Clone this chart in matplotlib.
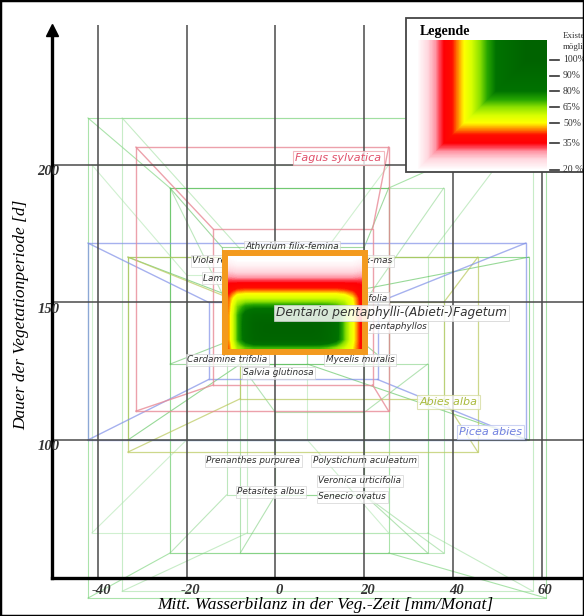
import numpy as np
import matplotlib
matplotlib.use("Agg")
import matplotlib.pyplot as plt
from matplotlib.colors import LinearSegmentedColormap, Normalize
from matplotlib.patches import Rectangle

# --- data -----------------------------------------------------------------
x_ticks = [-40, -20, 0, 20, 40, 60]
y_ticks = [100, 150, 200]

# Existenzmoeglichkeit (%) im Optimum-Fenster, Zeilen oben -> unten
heat_vals = np.array([
    [20, 19, 19, 19, 19, 19, 19, 19, 19, 19, 19, 19, 19, 19, 19, 19, 20],
    [23, 22, 22, 22, 22, 22, 22, 22, 22, 22, 22, 22, 22, 22, 22, 22, 23],
    [28, 27, 27, 27, 27, 27, 27, 27, 27, 27, 27, 27, 27, 27, 27, 27, 28],
    [34, 34, 34, 34, 34, 34, 34, 34, 34, 34, 34, 34, 34, 34, 34, 34, 34],
    [39, 43, 44, 44, 44, 44, 44, 44, 44, 44, 44, 44, 44, 44, 43, 41, 37],
    [44, 56, 58, 58, 58, 58, 58, 58, 58, 58, 58, 58, 58, 58, 56, 50, 39],
    [45, 66, 74, 76, 76, 76, 76, 76, 76, 76, 76, 76, 75, 72, 66, 52, 40],
    [46, 70, 84, 91, 92, 92, 92, 92, 92, 92, 92, 92, 90, 84, 68, 52, 40],
    [46, 70, 86, 96, 99, 99, 99, 99, 99, 99, 99, 98, 93, 85, 68, 52, 40],
    [46, 70, 86, 96, 99, 100, 100, 100, 100, 100, 100, 98, 93, 85, 68, 52, 40],
    [46, 70, 85, 95, 97, 97, 97, 97, 97, 97, 97, 96, 92, 84, 68, 52, 40],
    [44, 62, 68, 70, 70, 70, 70, 70, 70, 70, 70, 70, 68, 64, 58, 50, 40],
])
heat_box = (-11.3, 20.1, 132.0, 168.0)   # x0, x1, y0, y1

# Baumarten: aeusserer und innerer Rahmen (x0, x1, y0, y1)
fagus_outer, fagus_inner = (-31.4, 25.5, 110.5, 206.5), (-14.0, 21.9, 120.0, 176.7)
picea_outer, picea_inner = (-42.2, 56.4, 100.0, 171.6), (-15.0, 23.0, 122.0, 150.0)
abies_outer, abies_inner = (-33.2, 45.6, 95.6, 166.5), (-7.9, 37.9, 115.0, 150.0)

# Krautschicht-Arten: Rahmen
green_outer = [(-42.2, 61.0, 42.5, 217.1), (-34.5, 58.0, 45.0, 217.1),
               (-33.2, 57.1, 100.0, 166.5), (-23.7, 37.9, 58.9, 191.6),
               (-41.3, 25.5, 66.2, 200.0), (-7.9, 34.3, 58.9, 127.6),
               (-23.7, 25.5, 127.6, 191.6)]
green_inner = [(-23.7, 25.5, 58.9, 191.6), (-6.3, 34.3, 66.2, 166.5),
               (-7.9, 7.2, 127.6, 150.9), (-11.0, 20.0, 80.0, 150.0),
               (-20.0, 7.2, 100.0, 160.0), (0.0, 20.0, 80.0, 110.0),
               (-12.0, 20.0, 135.0, 170.0)]
green_cols = ['#66cc66', '#99dd99', '#44bb44', '#88d488', '#aae4aa', '#77cc77', '#55bb55']

species = ['Athyrium filix-femina', 'Viola reichenbachiana', 'Lamium galeobdolon',
           'Dryopteris filix-mas', 'Adenostyles alliariifolia', 'Dentaria pentaphyllos',
           'Cardamine trifolia', 'Mycelis muralis', 'Salvia glutinosa',
           'Prenanthes purpurea', 'Polystichum aculeatum', 'Veronica urticifolia',
           'Petasites albus', 'Senecio ovatus']
sp_x = [-6.8, -18.8, -16.3, 26.4, 25.3, 34.1, -19.9, 11.3, -7.2,
        -15.6, 8.4, 9.7, -8.6, 9.7]
sp_y = [170.2, 165.1, 158.9, 165.1, 151.6, 141.1, 129.1, 129.1, 124.4,
        92.4, 92.4, 85.1, 81.1, 79.3]
sp_ha = ['left', 'left', 'left', 'right', 'right', 'right', 'left', 'left', 'left',
         'left', 'left', 'left', 'left', 'left']

# Legende
leg_vals = [100, 90, 80, 65, 50, 35, 20]
leg_labels = ['100%', '90%', '80%', '65%', '50%', '35%', '20 %']
leg_tick_y = [60, 76, 91, 107, 123, 143, 170]

# colour ramp for the Existenzmoeglichkeit
stops = [(20, (1, 1, 1)), (26, (1, 0.84, 0.87)), (30, (1, 0.6, 0.66)),
         (33, (1, 0.2, 0.26)), (35, (1, 0, 0.02)), (41, (1, 0.05, 0)),
         (46, (1, 0.6, 0)), (50, (1, 1, 0)), (57, (0.85, 1, 0)),
         (65, (0.55, 0.88, 0)), (72, (0.15, 0.65, 0)), (80, (0, 0.45, 0)),
         (100, (0, 0.39, 0))]
cmap = LinearSegmentedColormap.from_list('exist', [((v - 20) / 80, c) for v, c in stops])
norm = Normalize(20, 100)

serif = 'Liberation Serif'


def draw_frame(ax, outer, inner, color, alpha, lw, z):
    for x0, x1, y0, y1 in (outer, inner):
        ax.plot([x0, x1, x1, x0, x0], [y0, y0, y1, y1, y0], color=color,
                alpha=alpha, lw=lw, zorder=z, clip_on=False)
    ox = [outer[0], outer[1], outer[1], outer[0]]
    oy = [outer[2], outer[2], outer[3], outer[3]]
    ix = [inner[0], inner[1], inner[1], inner[0]]
    iy = [inner[2], inner[2], inner[3], inner[3]]
    for k in range(4):
        ax.plot([ox[k], ix[k]], [oy[k], iy[k]], color=color, alpha=alpha,
                lw=lw, zorder=z, clip_on=False)


fig = plt.figure(figsize=(5.84, 6.16), dpi=100)

ax = fig.add_axes([52 / 584, 38 / 616, 532 / 584, 578 / 616])
ax.patch.set_alpha(0)
ax.set_xlim(-50.3, 69.5)
ax.set_ylim(49.8, 260)
for s in ('top', 'right'):
    ax.spines[s].set_visible(False)
ax.spines['left'].set_linewidth(2.4)
ax.spines['bottom'].set_linewidth(2.4)
ax.spines['left'].set_bounds(49.8, 247)
ax.spines['left'].set_zorder(8)
ax.spines['bottom'].set_zorder(8)
ax.plot([-50.3], [249], marker='^', ms=8, color='black', clip_on=False, zorder=9)
ax.set_xticks([])
ax.set_yticks([])

# Rahmen der Arten
for (o, i, c) in zip(green_outer, green_inner, green_cols):
    draw_frame(ax, o, i, c, 0.55, 0.8, 1)
draw_frame(ax, abies_outer, abies_inner, '#b9c85a', 0.7, 0.9, 2)
draw_frame(ax, picea_outer, picea_inner, '#8090e8', 0.7, 1.0, 2)
draw_frame(ax, fagus_outer, fagus_inner, '#e88a96', 0.8, 1.0, 2)

# Gitter
ax.vlines(x_ticks, 49.8, 251, color='#4a4a4a', lw=1.1, zorder=3)
ax.hlines(y_ticks, -50.3, 69.5, color='#4a4a4a', lw=1.1, zorder=3)

tick_font = dict(family=serif, style='italic', weight='bold', size=10.5, color='#333')
for xv in x_ticks:
    ax.text(xv + 0.8, 45.2, f'{xv}', ha='center', va='center', **tick_font)
for yv in y_ticks:
    ax.text(-48.6, yv - 2.5, f'{yv}', ha='right', va='center', zorder=9, **tick_font)

ax.set_xlabel('Mitt. Wasserbilanz in der Veg.-Zeit [mm/Monat]', family=serif,
              style='italic', size=12.5)
ax.xaxis.set_label_coords(0.513, -0.033)
ax.set_ylabel('Dauer der Vegetationperiode [d]', family=serif, style='italic', size=12.5)
ax.yaxis.set_label_coords(-0.042, 0.455)

# Artnamen
box = dict(boxstyle='square,pad=0.15', fc='white', ec='#cfcfcf', lw=0.6, alpha=0.75)
for name, xv, yv, ha in zip(species, sp_x, sp_y, sp_ha):
    ax.text(xv, yv, name, ha=ha, va='center', size=6.4, style='italic',
            color='#2e2e2e', bbox=box, zorder=4)

ax.text(4.5, 202.5, 'Fagus sylvatica', size=8, style='italic', color='#e0506a',
        va='center', zorder=4,
        bbox=dict(boxstyle='square,pad=0.2', fc='white', ec='#f0a8b0', lw=0.8, alpha=0.8))
ax.text(32.5, 113.8, 'Abies alba', size=8, style='italic', color='#a9ba3c',
        va='center', zorder=4,
        bbox=dict(boxstyle='square,pad=0.2', fc='white', ec='#d6dca0', lw=0.8, alpha=0.8))
ax.text(41.3, 102.9, 'Picea abies', size=8, style='italic', color='#7080e0',
        va='center', zorder=4,
        bbox=dict(boxstyle='square,pad=0.2', fc='white', ec='#c0c8f0', lw=0.8, alpha=0.8))

# Optimum-Fenster
hx0, hx1, hy0, hy1 = heat_box
ax.imshow(heat_vals, cmap=cmap, norm=norm, extent=(hx0, hx1, hy0, hy1),
          interpolation='bilinear', interpolation_stage='data', aspect='auto', zorder=5)
ax.add_patch(Rectangle((hx0, hy0), hx1 - hx0, hy1 - hy0, fill=False,
                       ec='#f39a1e', lw=4.3, zorder=6))
ax.text(0.2, 146.2, 'Dentario pentaphylli-(Abieti-)Fagetum', size=8.7, style='italic',
        color='#333', va='center', zorder=7,
        bbox=dict(boxstyle='square,pad=0.15', fc='white', ec='#d0d0d0', lw=0.6, alpha=0.85))
ax.set_xlim(-50.3, 69.5)
ax.set_ylim(49.8, 260)

# Legende (in Pixel-Koordinaten)
lg = fig.add_axes([406 / 584, (616 - 172) / 616, 178 / 584, 154 / 616])
lg.set_xlim(406, 584)
lg.set_ylim(172, 18)
lg.axis('off')
lg.add_patch(Rectangle((406, 18), 200, 154, fc='white', ec='#444', lw=1.3, clip_on=False))
xs = np.arange(417, 547) + 0.5
ys = np.arange(40, 170) + 0.5
vy = np.interp(ys, leg_tick_y, leg_vals)
vx = np.interp(547 - xs + 40, leg_tick_y, leg_vals)
lg.imshow(np.minimum(vx[None, :], vy[:, None]), cmap=cmap, norm=norm,
          extent=(417, 547, 170, 40), aspect='auto', interpolation='bilinear', zorder=2)
lg.text(420, 32, 'Legende', family=serif, weight='bold', size=10, va='center')
lg.text(563, 36, 'Existenz', family=serif, size=6.5, va='center', color='#333')
lg.text(563, 47, 'möglich', family=serif, size=6.5, va='center', color='#333')
for yv, lab in zip(leg_tick_y, leg_labels):
    lg.plot([550, 559], [yv, yv], color='#333', lw=1.2, clip_on=False)
    lg.text(563, yv, lab, family=serif, size=7, va='center', color='#333', clip_on=False)
lg.set_xlim(406, 584)
lg.set_ylim(172, 18)

# Rahmen um das ganze Bild
fig.add_artist(Rectangle((0, 0), 1, 1, transform=fig.transFigure, fill=False,
                         ec='black', lw=2.5, zorder=100))

fig.savefig('out.png', dpi=100)
